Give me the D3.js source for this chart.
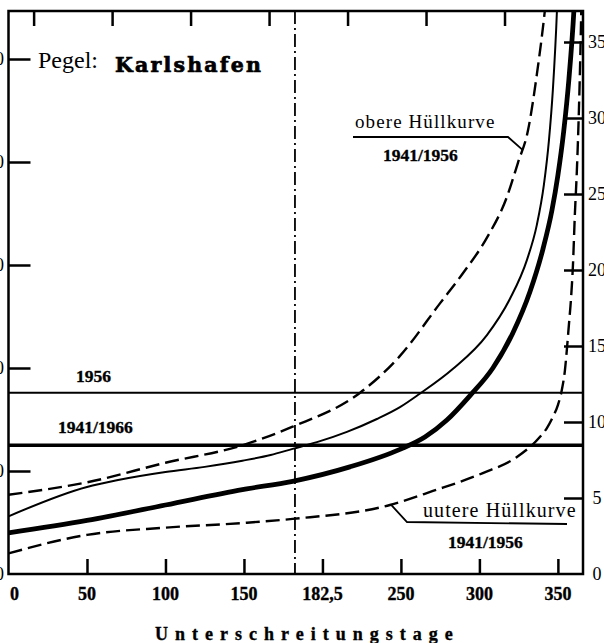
<!DOCTYPE html>
<html>
<head>
<meta charset="utf-8">
<script src="https://cdn.jsdelivr.net/npm/d3@7"></script>
<style>
  html, body { margin: 0; padding: 0; background: #fff; }
  svg { display: block; }
</style>
</head>
<body>
<script>
// Unterschreitungsdauerlinien des Abflusses am Pegel Karlshafen (Weser)
// linke Achse: Abfluss Q in m³/s, rechte Achse: Abflussspende in l/(s·km²)

const dayTicks = [0, 50, 100, 150, 200, 250, 300, 350];
const dayTickLabels = ["0", "50", "100", "150", "182,5", "250", "300", "350"];
const topTickDays = [16, 66, 116, 166, 216, 266, 316];
const flowTicks = [0, 100, 200, 300, 400, 500];
const flowTickLabels = ["0", "100", "200", "300", "400", "500"];
const spendeTicks = [0, 5, 10, 15, 20, 25, 30, 35];
const midYearDay = 182.5;

// obere Hüllkurve 1941/1956
const upperDays = [0, 50, 100, 149, 181, 224, 249, 275, 289.5, 305, 317.5, 324.5, 331, 336.6, 341.7, 344.3];
const upperFlow = [77, 89, 108, 125, 143, 176, 211, 263, 292, 327, 366, 399, 431, 485, 547, 586];

// Dauerlinie 1956
const year1956Days = [0, 50, 69, 100, 125, 149, 167, 181, 196.5, 215.6, 234.7, 249.4, 262, 283, 304.8, 319.4, 330.3, 336.6, 341.1, 344.3, 346.8, 349.4, 350.3];
const year1956Flow = [56, 84.5, 91, 99, 104, 110, 115.5, 121.5, 128, 138, 150.5, 162, 175, 199, 232, 267, 305, 339, 378, 421, 470, 547, 586];

// mittlere Dauerlinie 1941/1966
const meanDays = [0, 50, 100, 149, 181, 217.5, 249.4, 265.3, 279.3, 293.9, 308.6, 321.3, 332.2, 340.4, 346.2, 350, 353.8, 357, 360.2, 361.5];
const meanFlow = [40, 52, 67, 82, 90, 104, 121, 133, 149.5, 173, 200, 234, 274, 315, 353, 387, 431, 480, 547, 586];

// untere Hüllkurve 1941/1956
const lowerDays = [0, 50, 100, 149, 181, 243, 270.4, 302.2, 323.9, 338.5, 343, 346.8, 350, 352.5, 354.5, 355.7, 357, 358.3, 359.6, 360.8, 362.1, 363.4, 364.3, 364.9];
const lowerFlow = [20, 38, 45, 49.5, 53.5, 67, 80.6, 98, 113.6, 133, 141.7, 152.4, 164, 178.6, 198, 217.5, 241.7, 266, 300, 348.5, 392, 450.5, 504, 547];

// Mittelwasser als waagerechte Linien
const mean1956 = 176;
const mean1941to1966 = 125;

const W = 604, H = 643;
const plotLeft = 8.5, plotRight = 583, plotTop = 11, plotBottom = 574;

const x = d3.scaleLinear().domain([0, 366]).range([plotLeft, plotRight]);
const y = d3.scaleLinear().domain([0, 500]).range([plotBottom, 59]);
const ySpende = d3.scaleLinear().domain([0, 35]).range([plotBottom, 42]);

const svg = d3.select("body").append("svg")
  .attr("width", W).attr("height", H)
  .style("background", "#fff");

svg.append("defs").append("clipPath").attr("id", "plot")
  .append("rect")
  .attr("x", plotLeft).attr("y", plotTop)
  .attr("width", plotRight - plotLeft).attr("height", plotBottom - plotTop);

const serif = "'Liberation Serif', 'Times New Roman', serif";
const slab = "'DejaVu Serif', serif";

const plot = svg.append("g").attr("clip-path", "url(#plot)");

const line = d3.line()
  .x(d => x(d[0]))
  .y(d => y(d[1]))
  .curve(d3.curveMonotoneX);

const zipCurve = (days, flow) => days.map((d, i) => [d, flow[i]]);

const curves = [
  { key: "upper", pts: zipCurve(upperDays, upperFlow), width: 2.4, dash: "14,6" },
  { key: "y1956", pts: zipCurve(year1956Days, year1956Flow), width: 2.0, dash: null },
  { key: "mean", pts: zipCurve(meanDays, meanFlow), width: 4.8, dash: null },
  { key: "lower", pts: zipCurve(lowerDays, lowerFlow), width: 2.4, dash: "14,6" }
];

const paths = {};
curves.forEach(c => {
  paths[c.key] = plot.append("path")
    .datum(c.pts)
    .attr("d", line)
    .attr("fill", "none")
    .attr("stroke", "#000")
    .attr("stroke-width", c.width)
    .attr("stroke-dasharray", c.dash)
    .attr("stroke-linecap", "butt")
    .node();
});

// Punkt auf einer Kurve suchen (für die Hinweislinien)
function pointOnPath(node, test) {
  const len = node.getTotalLength();
  let best = node.getPointAtLength(0), bestErr = Infinity;
  for (let s = 0; s <= len; s += 0.5) {
    const p = node.getPointAtLength(s);
    const e = test(p);
    if (e < bestErr) { bestErr = e; best = p; }
  }
  return [best.x, best.y];
}

// waagerechte Mittelwasserlinien
plot.append("line")
  .attr("x1", plotLeft).attr("x2", plotRight)
  .attr("y1", y(mean1956)).attr("y2", y(mean1956))
  .attr("stroke", "#000").attr("stroke-width", 2);
plot.append("line")
  .attr("x1", plotLeft).attr("x2", plotRight)
  .attr("y1", y(mean1941to1966)).attr("y2", y(mean1941to1966))
  .attr("stroke", "#000").attr("stroke-width", 3.6);

// Jahresmitte
plot.append("line")
  .attr("x1", x(midYearDay)).attr("x2", x(midYearDay))
  .attr("y1", plotTop).attr("y2", plotBottom)
  .attr("stroke", "#000").attr("stroke-width", 1.8)
  .attr("stroke-dasharray", "13,4,2,4");

// Rahmen
svg.append("rect")
  .attr("x", plotLeft).attr("y", plotTop)
  .attr("width", plotRight - plotLeft).attr("height", plotBottom - plotTop)
  .attr("fill", "none").attr("stroke", "#000").attr("stroke-width", 2.5);

// Achsen mit nach innen weisenden Strichen
const xBottom = d3.axisTop(x).tickValues(dayTicks.slice(1)).tickSize(15).tickFormat("");
svg.append("g").attr("transform", `translate(0,${plotBottom})`).call(xBottom);

const xTop = d3.axisBottom(x).tickValues(topTickDays).tickSize(15).tickFormat("");
svg.append("g").attr("transform", `translate(0,${plotTop})`).call(xTop);

const yLeft = d3.axisRight(y).tickValues(flowTicks.slice(1)).tickSize(22).tickFormat("");
svg.append("g").attr("transform", `translate(${plotLeft},0)`).call(yLeft);

const yRight = d3.axisLeft(ySpende).tickValues(spendeTicks.slice(1)).tickSize(19).tickFormat("");
svg.append("g").attr("transform", `translate(${plotRight},0)`).call(yRight);

svg.selectAll(".domain").remove();
svg.selectAll(".tick line").attr("stroke", "#000").attr("stroke-width", 2.5);

// fett gesetzte Beschriftungen etwas kräftiger
const heavy = sel => sel.attr("font-weight", "bold")
  .attr("stroke", "#000").attr("stroke-width", 0.35);

// Beschriftung der Tagesachse
svg.append("g").selectAll("text")
  .data(dayTicks)
  .join("text")
  .attr("x", (d, i) => i === 0 ? x(d) + 6 : x(d))
  .attr("y", 600)
  .attr("text-anchor", "middle")
  .attr("font-family", serif)
  .attr("font-size", 18)
  .call(heavy)
  .text((d, i) => dayTickLabels[i]);

// linke Achse (Abfluss)
svg.append("g").selectAll("text")
  .data(flowTicks)
  .join("text")
  .attr("x", 4)
  .attr("y", d => y(d) + 6)
  .attr("text-anchor", "end")
  .attr("font-family", serif)
  .attr("font-size", 18)
  .text((d, i) => flowTickLabels[i]);

// rechte Achse (Abflussspende)
svg.append("g").selectAll("text")
  .data(spendeTicks)
  .join("text")
  .attr("x", 597)
  .attr("y", d => ySpende(d) + 6)
  .attr("text-anchor", "middle")
  .attr("font-family", serif)
  .attr("font-size", 18)
  .text(d => d);

// Titel
svg.append("text")
  .attr("x", 38).attr("y", 68)
  .attr("font-family", serif).attr("font-size", 24)
  .text("Pegel:");
svg.append("text")
  .attr("x", 115).attr("y", 72)
  .attr("font-family", slab).attr("font-weight", "bold")
  .attr("font-size", 20.5).attr("letter-spacing", 2.2)
  .attr("stroke", "#000").attr("stroke-width", 0.7)
  .text("Karlshafen");

// Jahreszahlen an den Mittelwasserlinien
svg.append("text")
  .attr("x", 76).attr("y", 382)
  .attr("font-family", serif).attr("font-size", 17.5)
  .call(heavy)
  .text("1956");
svg.append("text")
  .attr("x", 58).attr("y", 433)
  .attr("font-family", serif).attr("font-size", 17.5)
  .call(heavy)
  .text("1941/1966");

// obere Hüllkurve: Beschriftung mit Hinweislinie
const upperAnchor = pointOnPath(paths.upper, p => Math.abs(p.y - 150));
svg.append("path")
  .attr("d", d3.line()([[353, 137], [508, 137], upperAnchor]))
  .attr("fill", "none").attr("stroke", "#000").attr("stroke-width", 1.8);
svg.append("text")
  .attr("x", 355).attr("y", 128)
  .attr("font-family", serif).attr("font-size", 19).attr("letter-spacing", 1.1)
  .text("obere Hüllkurve");
svg.append("text")
  .attr("x", 383).attr("y", 161)
  .attr("font-family", serif).attr("font-size", 17.5)
  .call(heavy)
  .text("1941/1956");

// untere Hüllkurve: Beschriftung mit Hinweislinie
const lowerAnchor = pointOnPath(paths.lower, p => Math.abs(p.x - 391));
svg.append("path")
  .attr("d", d3.line()([lowerAnchor, [407, 522], [567, 524]]))
  .attr("fill", "none").attr("stroke", "#000").attr("stroke-width", 1.8);
svg.append("text")
  .attr("x", 423).attr("y", 517)
  .attr("font-family", serif).attr("font-size", 20).attr("letter-spacing", 1.1)
  .text("uutere Hüllkurve");
svg.append("text")
  .attr("x", 448).attr("y", 548)
  .attr("font-family", serif).attr("font-size", 17.5)
  .call(heavy)
  .text("1941/1956");

// Achsentitel
svg.append("text")
  .attr("x", 155).attr("y", 640)
  .attr("font-family", serif).attr("font-size", 18)
  .attr("letter-spacing", 7)
  .call(heavy)
  .text("Unterschreitungstage");
</script>
</body>
</html>
